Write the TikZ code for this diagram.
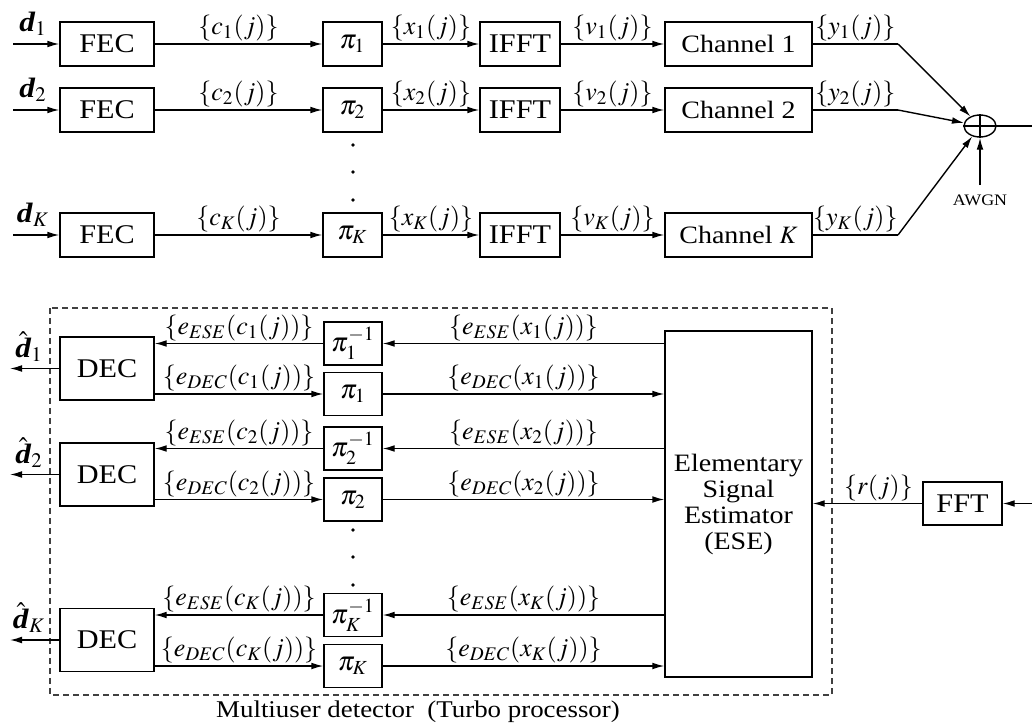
\documentclass[tikz,border=0pt]{standalone}
\usepackage{amsmath}
\usepackage{mathptmx}
\usepackage{fontspec}
\setmainfont{Liberation Serif}[FakeStretch=1.12]
\usetikzlibrary{arrows.meta,shapes.geometric}
\begin{document}
\begin{tikzpicture}[x=0.5pt,y=-0.5pt,
  box/.style={draw, line width=0.7pt, minimum height=22pt, inner sep=0pt, font=\fontsize{13.5}{15}\selectfont},
  lbl/.style={font=\fontsize{13}{15}\selectfont, inner sep=1pt},
  dlbl/.style={font=\fontsize{14}{16}\selectfont, inner sep=0pt},
  arr/.style={-{Latex[length=6pt,width=3.4pt]}, line width=0.7pt},
  ln/.style={line width=0.7pt}]
\useasboundingbox (0,0) rectangle (1032,722);
% ---------- transmitter ----------
\foreach \i/\y/\s/\c in {1/44/1/1, 2/110/2/2, K/235/K/$K$}{
  \node[box, minimum width=47pt] (fec\i) at (107,\y) {FEC};
  \node[box, minimum width=29.5pt] (pi\i) at (352.5,\y) {$\pi_{\s}$};
  \node[box, minimum width=40pt] (ifft\i) at (520,\y) {IFFT};
  \node[box, minimum width=73.5pt, font=\fontsize{12.5}{14}\selectfont] (ch\i) at (738.5,\y) {Channel \c};
  \coordinate (in\i) at (13,\y);
  \node[dlbl] (dl\i) at (33,\y-20) {$\textbf{\textit{d}}_{\s}$};
  \draw[arr] (in\i) -- (fec\i);
  \draw[arr] (fec\i) -- node[lbl, above] {$\{c_{\s}(j)\}$} (pi\i);
  \draw[arr] (pi\i) -- node[lbl, above] {$\{x_{\s}(j)\}$} (ifft\i);
  \draw[arr] (ifft\i) -- node[lbl, above] {$\{v_{\s}(j)\}$} (ch\i);
  \coordinate (k\i) at (898,\y);
  \draw[ln] (ch\i) -- node[lbl, above] {$\{y_{\s}(j)\}$} (k\i);
}
\node[draw, ellipse, minimum width=16pt, minimum height=11pt, inner sep=0pt, line width=0.7pt] (sum) at (980,126) {};
\draw[ln] (sum.north) -- (sum.south) (sum.west) -- (sum.east);
\draw[arr] (k1) -- (sum);
\draw[arr] (k2) -- (sum);
\draw[arr] (kK) -- (sum);
\coordinate (awgn) at (980,185);
\draw[arr] (awgn) -- (sum.south);
\node[font=\fontsize{8}{9}\selectfont] (awgnl) at (980,200) {AWGN};
\coordinate (out) at (1032,126);
\draw[ln] (sum.east) -- (out);
\foreach \yy in {145,172,200} \fill (353,\yy) circle (1.8);
% ---------- receiver ----------
\draw[dashed, dash pattern=on 3pt off 2pt, line width=0.7pt, black!75] (50,308) rectangle (832,695);
\node[box, minimum width=73.5pt, minimum height=173pt, align=center, font=\fontsize{12.5}{13}\selectfont] (ese) at (738.5,504) {Elementary\\Signal\\Estimator\\(ESE)};
\foreach \i/\yd/\yi/\yp/\s in {1/368.5/343.5/394/1, 2/474.5/448.5/499.5/2, K/640/615/666/K}{
  \node[box, minimum width=47pt, minimum height=31.5pt] (dec\i) at (107,\yd) {DEC};
  \node[box, minimum width=29pt, minimum height=21.5pt] (pii\i) at (353,\yi) {$\pi_{\s}^{-1}$};
  \node[box, minimum width=29pt, minimum height=21.5pt] (pid\i) at (353,\yp) {$\pi_{\s}$};
  \draw[arr] (ese.west |- pii\i) -- node[lbl, above] {$\{e_{ESE}(x_{\s}(j))\}$} (pii\i);
  \draw[arr] (pii\i) -- node[lbl, above] {$\{e_{ESE}(c_{\s}(j))\}$} (dec\i.east |- pii\i);
  \draw[arr] (dec\i.east |- pid\i) -- node[lbl, above] {$\{e_{DEC}(c_{\s}(j))\}$} (pid\i);
  \draw[arr] (pid\i) -- node[lbl, above] {$\{e_{DEC}(x_{\s}(j))\}$} (ese.west |- pid\i);
  \coordinate (o\i) at (10,\yd);
  \draw[arr] (dec\i) -- (o\i);
  \node[dlbl] (dh\i) at (29,\yd-22) {$\hat{\textbf{\textit{d}}}_{\s}$};
}
\foreach \yy in {530,557,585} \fill (353,\yy) circle (1.8);
\node[box, minimum width=39.5pt, minimum height=21.5pt] (fft) at (962.5,503.5) {FFT};
\coordinate (rin) at (1032,503.5);
\draw[arr] (rin) -- (fft);
\draw[arr] (fft) -- node[lbl, above, pos=0.4] {$\{r(j)\}$} (ese.east |- fft);
\node[font=\fontsize{12}{14}\selectfont] (cap) at (418,712) {Multiuser detector\ \ (Turbo processor)};
\end{tikzpicture}
\end{document}
